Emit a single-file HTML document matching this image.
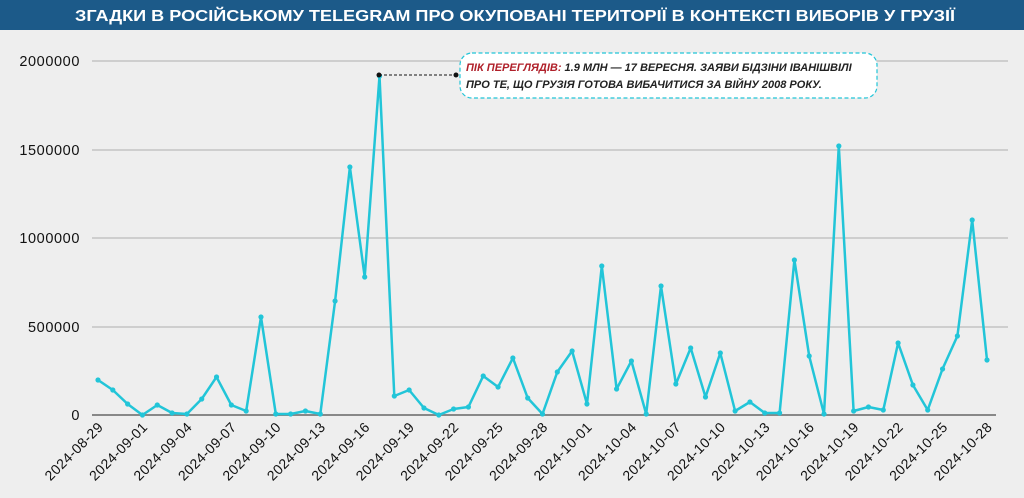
<!DOCTYPE html>
<html><head><meta charset="utf-8"><style>
body{margin:0;width:1024px;height:498px;background:#eeeeee;overflow:hidden}
svg{display:block}
</style></head><body>
<svg width="1024" height="498" xmlns="http://www.w3.org/2000/svg" font-family="Liberation Sans, DejaVu Sans, sans-serif">
<rect width="1024" height="498" fill="#eeeeee"/>
<rect width="1024" height="30" fill="#1c5a89"/>
<text x="515" y="21" text-anchor="middle" fill="#fff" font-size="15.5" font-weight="bold" textLength="880" lengthAdjust="spacingAndGlyphs">ЗГАДКИ В РОСІЙСЬКОМУ TELEGRAM ПРО ОКУПОВАНІ ТЕРИТОРІЇ В КОНТЕКСТІ ВИБОРІВ У ГРУЗІЇ</text>
<g stroke="#c4c4c4" stroke-width="1.5">
<line x1="92" y1="61" x2="1008" y2="61"/>
<line x1="92" y1="150" x2="1008" y2="150"/>
<line x1="92" y1="238" x2="1008" y2="238"/>
<line x1="92" y1="327" x2="1008" y2="327"/>
</g>
<line x1="92" y1="415" x2="996" y2="415" stroke="#888" stroke-width="2"/>
<g font-size="14.5" fill="#111" text-anchor="end" letter-spacing="0.6">
<text x="80" y="66">2000000</text>
<text x="80" y="155">1500000</text>
<text x="80" y="243">1000000</text>
<text x="80" y="332">500000</text>
<text x="80" y="420">0</text>
</g>
<g font-size="14" fill="#111" text-anchor="end" id="xl" letter-spacing="0.4"></g>
<polyline id="ln" fill="none" stroke="#22c5d8" stroke-width="2.5" stroke-linejoin="round"/>
<g id="pts" fill="#22c5d8"></g>
<line x1="379" y1="75" x2="456" y2="75" stroke="#111" stroke-width="1" stroke-dasharray="3,2"/>
<circle cx="379" cy="75" r="2.5" fill="#111"/><circle cx="456" cy="75" r="2.5" fill="#111"/>
<rect x="460" y="53" width="417" height="45" rx="12" fill="#fff" stroke="#22c5d8" stroke-width="1.2" stroke-dasharray="4,2.5"/>
<text x="466" y="71" font-size="11" font-style="italic" font-weight="bold" fill="#222"><tspan fill="#b0202a">ПІК ПЕРЕГЛЯДІВ:</tspan> 1.9 МЛН — 17 ВЕРЕСНЯ. ЗАЯВИ БІДЗІНИ ІВАНІШВІЛІ</text>
<text x="466" y="88" font-size="11" font-style="italic" font-weight="bold" fill="#222">ПРО ТЕ, ЩО ГРУЗІЯ ГОТОВА ВИБАЧИТИСЯ ЗА ВІЙНУ 2008 РОКУ.</text>
</svg>
<script>
var ys=[380,390,404,415,405,413,414,399,377,405,411,317,414,414,411,414,301,167,277,76,396,390,408,415,409,407,376,387,358,398,414,372,351,404,266,389,361,414,286,384,348,397,353,411,402,413,413,260,356,414,146,411,407,410,343,385,410,369,336,220,360];
var pts=[],g=document.getElementById('pts'),ns='http://www.w3.org/2000/svg';
ys.forEach(function(y,i){var x=98+i*889/60;pts.push(x.toFixed(1)+','+y);var c=document.createElementNS(ns,'circle');c.setAttribute('cx',x);c.setAttribute('cy',y);c.setAttribute('r',2.6);g.appendChild(c);});
document.getElementById('ln').setAttribute('points',pts.join(' '));
var xl=document.getElementById('xl');
var labs=['2024-08-29','2024-09-01','2024-09-04','2024-09-07','2024-09-10','2024-09-13','2024-09-16','2024-09-19','2024-09-22','2024-09-25','2024-09-28','2024-10-01','2024-10-04','2024-10-07','2024-10-10','2024-10-13','2024-10-16','2024-10-19','2024-10-22','2024-10-25','2024-10-28'];
labs.forEach(function(l,k){var x=98+k*3*889/60+6,y=428;var t=document.createElementNS(ns,'text');t.setAttribute('x',x);t.setAttribute('y',y);t.setAttribute('transform','rotate(-45 '+x+' '+y+')');t.textContent=l;xl.appendChild(t);});
</script>
</body></html>
